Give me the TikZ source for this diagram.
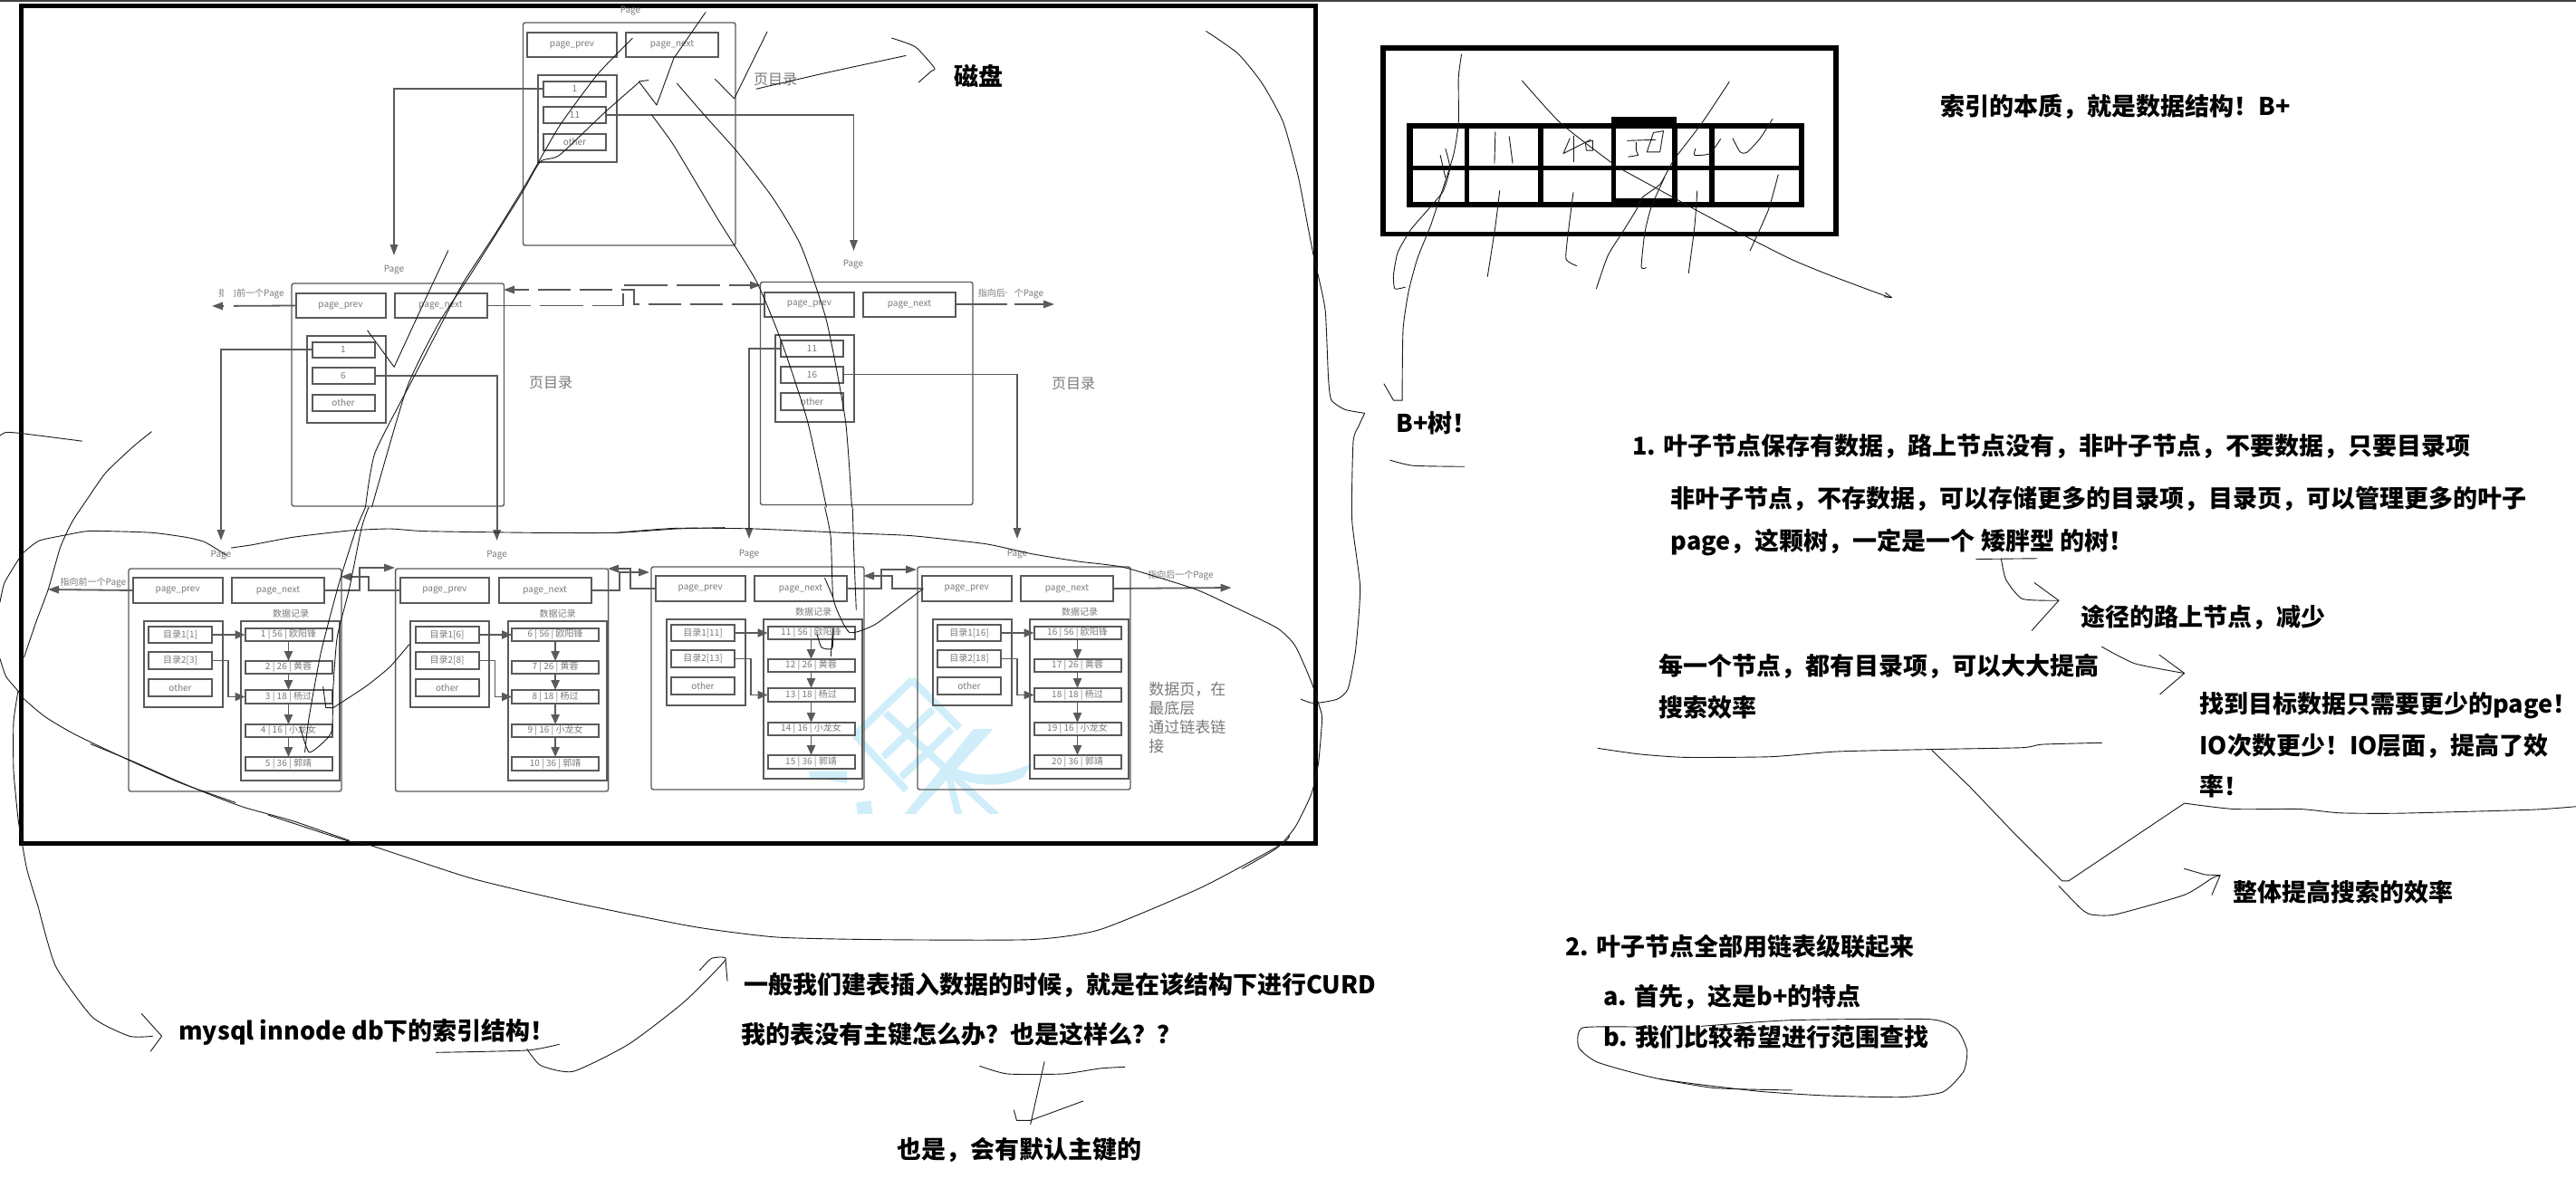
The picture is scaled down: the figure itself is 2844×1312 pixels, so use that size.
\documentclass[tikz,border=0pt]{standalone}
\usepackage{fontspec}
\setmainfont{Noto Sans CJK SC}
\usetikzlibrary{arrows.meta}
\definecolor{ln}{HTML}{5A5A5A}
\definecolor{tx}{HTML}{7A7A7A}
\definecolor{wm}{HTML}{CFEEFA}
\tikzset{
  pagebox/.style={draw=ln,line width=.7pt,rounded corners=1.2pt,inner sep=0,outer sep=0},
  cellbox/.style={draw=ln,line width=1pt,inner sep=0,outer sep=0,text=tx,font=\fontsize{5}{6}\selectfont},
  framebox/.style={draw=black,line width=2.5pt,inner sep=0,outer sep=0},
  lbl/.style={text=tx,inner sep=0,font=\fontsize{5}{6}\selectfont},
  midlbl/.style={text=tx,inner sep=0,font=\fontsize{8}{9.5}\selectfont},
  notelbl/.style={text=tx,inner sep=0,anchor=west,text height=.76em,text depth=0pt,font=\fontsize{8.5}{10}\selectfont},
  bigt/.style={text=black,anchor=west,inner sep=0,text height=.76em,text depth=0pt,font=\fontsize{13.5}{16}\selectfont\bfseries},
  arr/.style={draw=ln,line width=.9pt,-{Triangle[length=6pt,width=4.2pt]}},
  arrs/.style={draw=ln,line width=.9pt,-{Triangle[length=5.5pt,width=4.6pt]}},
  hand/.style={draw=black!90,line width=.45pt,line join=round,line cap=round},
  zone1/.style={xscale=.7018,yscale=.3571},
  zone2/.style={shift={(100,560)},xscale=.4464,yscale=.3333},
  zone3/.style={shift={(680,560)},xscale=.5102,yscale=.3333},
  zone4/.style={shift={(1450,0)},xscale=.4783,yscale=.3571},
  zone5/.style={shift={(1700,440)},xscale=.7299,yscale=.3571},
  zone6/.style={shift={(0,900)},xscale=1.0204,yscale=.3333},
  zone7/.style={shift={(1650,900)},xscale=.7615,yscale=.3333},
  zone8/.style={shift={(0,440)},xscale=.3333,yscale=.3571},
  zone9/.style={shift={(1300,0)},xscale=.3333,yscale=.574},
  zone10/.style={shift={(900,730)},xscale=.3333,yscale=.3333},
}
\newcommand{\bx}[7]{%
  \pgfmathsetmacro{\bcx}{(#2+#4)/2}\pgfmathsetmacro{\bcy}{(#3+#5)/2}%
  \pgfmathsetmacro{\bw}{(#4-#2)*.5}\pgfmathsetmacro{\bh}{(#5-#3)*.5}%
  \node[#6,minimum width=\bw pt,minimum height=\bh pt] (#1) at (\bcx,\bcy) {#7};}
\newcommand{\hs}[1]{\draw[hand] plot[smooth,tension=.35] coordinates {#1};}
\newcommand{\hp}[1]{\draw[hand] plot coordinates {#1};}
% a non-leaf page
\newcommand{\dirpage}[5]{\begin{scope}[shift={(#2,#3)}]
  \bx{#1}{577.5}{25}{812}{271}{pagebox}{}
  \bx{#1-prev}{582}{36}{681}{63}{cellbox}{page\_prev}
  \bx{#1-next}{691}{36}{793}{63}{cellbox}{page\_next}
  \bx{#1-dir}{594}{83}{681}{179}{cellbox}{}
  \bx{#1-e1}{600}{89.5}{669}{107}{cellbox}{#4}
  \bx{#1-e2}{600}{118}{669}{136}{cellbox}{#5}
  \bx{#1-e3}{600}{147.5}{669}{166}{cellbox}{other}
\end{scope}}
% a leaf page
\newcommand{\leaf}[4]{\begin{scope}[shift={(#2,#3)}]
  \bx{#1}{142}{628}{377}{874}{pagebox}{}
  \bx{#1-prev}{147}{638}{245.5}{666}{cellbox}{page\_prev}
  \bx{#1-next}{256}{638}{358}{666}{cellbox}{page\_next}
  \node[lbl] (#1-dl) at (321,678) {数据记录};
  \bx{#1-dir}{158.5}{686}{245.5}{781}{cellbox}{}
  \bx{#1-e1}{164}{692}{234}{710}{cellbox}{目录1[\the\numexpr#4\relax]}
  \bx{#1-e2}{164}{720}{234}{739}{cellbox}{目录2[\the\numexpr#4+2\relax]}
  \bx{#1-e3}{164}{750}{234}{769}{cellbox}{other}
  \bx{#1-data}{266}{686}{375}{862}{cellbox}{}
  \bx{#1-r1}{270.5}{694}{366.5}{708}{cellbox}{\the\numexpr#4\relax\ | 56 | 欧阳锋}
  \bx{#1-r2}{270.5}{730}{366.5}{744}{cellbox}{\the\numexpr#4+1\relax\ | 26 | 黄蓉}
  \bx{#1-r3}{270.5}{762}{366.5}{777}{cellbox}{\the\numexpr#4+2\relax\ | 18 | 杨过}
  \bx{#1-r4}{270.5}{800}{366.5}{814}{cellbox}{\the\numexpr#4+3\relax\ | 16 | 小龙女}
  \bx{#1-r5}{270.5}{836}{366.5}{851}{cellbox}{\the\numexpr#4+4\relax\ | 36 | 郭靖}
  \draw[arrs] (#1-e1.east) -- (#1-r1.west);
  \coordinate (#1-bend) at (252,769.5);
  \draw[arrs,line width=.7pt] (#1-e2.east) -| (#1-bend) -- (#1-r3.west);
  \draw[arrs] (#1-r1.south) -- (#1-r2.north);
  \draw[arrs] (#1-r2.south) -- (#1-r3.north);
  \draw[arrs] (#1-r3.south) -- (#1-r4.north);
  \draw[arrs] (#1-r4.south) -- (#1-r5.north);
\end{scope}}
\begin{document}
\begin{tikzpicture}[x=.5pt,y=-.5pt]
\useasboundingbox (0,0) rectangle (2844,1312);
\clip (0,0) rectangle (2844,1312);
\fill[white] (0,0) rectangle (2844,1312);
\draw[black!75,line width=.8pt] (0,.8) -- (2844,.8);
% watermark
\begin{scope}
  \clip (880,700) rectangle (1200,898);
  \begin{scope}[zone10,draw=wm,line width=4pt]
    \draw[wm] (320,62) -- (478,222);
    \draw[wm] (232,172) -- (600,512);
    \draw[wm] (132,246) -- (302,428);
    \draw[wm] (132,246) -- (322,62);
    \draw[wm] (225,318) -- (390,160);
    \draw[wm] (285,385) -- (452,225);
    \fill[wm] (590,225) -- (525,225) -- (285,520) -- (320,520) -- cycle;
    \fill[wm] (440,345) .. controls (530,390) and (620,385) .. (715,340) -- (690,385) .. controls (620,420) and (530,420) .. (445,375) -- cycle;
    \fill[wm] (430,375) -- (450,365) -- (490,520) -- (465,520) -- cycle;
    \fill[wm] (135,470) -- (185,462) -- (192,520) -- (142,520) -- cycle;
    \fill[wm] (-20,365) -- (105,365) -- (105,405) -- (-20,385) -- cycle;
  \end{scope}
\end{scope}
% frame
\bx{frame}{23}{6.5}{1452.5}{931}{framebox}{}
% tree
\dirpage{root}{0}{0}{1}{11}
\dirpage{ml}{-255.5}{288}{1}{6}
\dirpage{mr}{262}{286.5}{11}{16}
\leaf{la}{0}{0}{1}
\leaf{lb}{294.6}{0}{6}
\leaf{lc}{577}{-2}{11}
\leaf{ld}{871}{-2}{16}
\node[lbl] (rootp) at (696,12) {Page};
\node[lbl] (mlp) at (435,298) {Page};
\node[lbl] (mrp) at (942,292) {Page};
\node[lbl] (lap) at (244,613) {Page};
\node[lbl] (lbp) at (548.6,613) {Page};
\node[lbl] (lcp) at (827,612) {Page};
\node[lbl] (ldp) at (1123,612) {Page};
\node[midlbl] (rootd) at (856,87.5) {页目录};
\node[midlbl] (mld) at (608,422.5) {页目录};
\node[midlbl] (mrd) at (1185,424) {页目录};
\node[lbl] (mlprevl) at (277.5,325) {指向前一个Page};
\node[lbl] (mrnextl) at (1116,325) {指向后一个Page};
\node[lbl] (laprevl) at (103,643.5) {指向前一个Page};
\node[lbl] (ldnextl) at (1303.5,636) {指向后一个Page};
\node[notelbl] (dp1) at (1268,760) {数据页，在};
\node[notelbl] (dp2) at (1268,781) {最底层};
\node[notelbl] (dp3) at (1268,802) {通过链表链};
\node[notelbl] (dp4) at (1268,823) {接};
% tree connectors
\coordinate (mlin) at (435,282); \coordinate (mrin) at (942.5,277);
\coordinate (lain) at (244,597); \coordinate (lbin) at (548.6,597);
\coordinate (lcin) at (827,595); \coordinate (ldin) at (1123,595);
\draw[arr] (root-e1.west) -| (mlin);
\draw[arr] (root-e2.east) -| (mrin);
\draw[arr] (ml-e1.west) -| (lain);
\draw[arr] (ml-e2.east) -| (lbin);
\draw[arr] (mr-e1.west) -| (lcin);
\draw[arr] (mr-e2.east) -| (ldin);
\coordinate (mlout) at (234,338); \coordinate (mrout) at (1164,336);
\draw[arr] (ml-prev.west) -- (mlout);
\draw[arr] (mr-next.east) -- (mrout);
\fill[white] (247,316) rectangle (258,346);
\fill[white] (1111.5,316) rectangle (1119.5,346);
\coordinate (fa) at (688,315); \coordinate (fb) at (840,315);
\coordinate (ba) at (700,320); \coordinate (bb) at (556,320);
\draw[arr,dash pattern=on 24pt off 5pt] (ml-next.east) -| (fa) -- (fb);
\draw[arr,dash pattern=on 18pt off 5pt] (mr-prev.west) -| (ba) -- (bb);
\coordinate (laout) at (53,651); \coordinate (ldout) at (1359.6,649);
\draw[arr] (la-prev.west) -- (laout);
\draw[arr] (ld-next.east) -- (ldout);
\coordinate (f1a) at (397,627); \coordinate (f1b) at (436,627);
\coordinate (b1a) at (407,637); \coordinate (b1b) at (376,637);
\draw[arr] (la-next.east) -| (f1a) -- (f1b);
\draw[arr] (lb-prev.west) -| (b1a) -- (b1b);
\coordinate (f2a) at (684,632); \coordinate (f2b) at (717,632);
\coordinate (b2a) at (696,628); \coordinate (b2b) at (671,628);
\draw[arr] (lb-next.east) -| (f2a) -- (f2b);
\draw[arr] (lc-prev.west) -| (b2a) -- (b2b);
\coordinate (f3a) at (973,629); \coordinate (f3b) at (1012,629);
\coordinate (b3a) at (984.6,636); \coordinate (b3b) at (953,636);
\draw[arr] (lc-next.east) -| (f3a) -- (f3b);
\draw[arr] (ld-prev.west) -| (b3a) -- (b3b);
% index table sketch
\draw[black,line width=2.9pt] (1526.7,53) rectangle (2026.7,258.5);
\foreach \xa/\xb in {1553/1560,1616.5/1622,1698/1703.6,1779/1783.5,1846/1852,1887/1892.5,1986/1992}
  \fill[black] (\xa,136) rectangle (\xb,228.5);
\foreach \ya/\yb in {136/142,183/188,223/228.5}
  \fill[black] (1553,\ya) rectangle (1992,\yb);
\fill[black] (1779,129) rectangle (1851,142);
\fill[black] (1779,219) rectangle (1851,228.5);
% text
\node[bigt] (disk) at (1053,87) {磁盘};
\node[bigt] (t0) at (2142,120) {索引的本质，就是数据结构！B+};
\node[bigt] (t1) at (1541,470) {B+树！};
\node[bigt] (t2) at (1802,495) {1. 叶子节点保存有数据，路上节点没有，非叶子节点，不要数据，只要目录项};
\node[bigt] (t3) at (1844.5,552.5) {非叶子节点，不存数据，可以存储更多的目录项，目录页，可以管理更多的叶子};
\node[bigt] (t4) at (1844.5,600) {page，这颗树，一定是一个 矮胖型 的树！};
\node[bigt] (t5) at (2297,683.5) {途径的路上节点，减少};
\node[bigt] (t6) at (1831,738) {每一个节点，都有目录项，可以大大提高};
\node[bigt] (t7) at (1831,783.5) {搜索效率};
\node[bigt] (t8) at (2428,780) {找到目标数据只需要更少的page！};
\node[bigt] (t9) at (2428,826) {IO次数更少！IO层面，提高了效};
\node[bigt] (t10) at (2428,871) {率！};
\node[bigt] (t11) at (2465,988) {整体提高搜索的效率};
\node[bigt] (t12) at (1728,1048) {2. 叶子节点全部用链表级联起来};
\node[bigt] (t13) at (1770,1103) {a. 首先，这是b+的特点};
\node[bigt] (t14) at (1770,1148) {b. 我们比较希望进行范围查找};
\node[bigt] (t15) at (197,1141) {mysql innode db下的索引结构！};
\node[bigt] (t16) at (821,1090) {一般我们建表插入数据的时候，就是在该结构下进行CURD};
\node[bigt] (t17) at (818,1145) {我的表没有主键怎么办？也是这样么？？};
\node[bigt] (t18) at (990,1272) {也是，会有默认主键的};
% hand strokes: tree paths
\begin{scope}[zone1]
\hs{(995,118)(940,230)(880,390)(830,560)(780,720)(730,870)(700,980)(650,1170)(590,1400)(575,1568)}
\hp{(1020,248)(1005,252)(1033,325)(1060,180)(1110,38)}
\hs{(1005,255)(950,350)(880,480)(850,500)(820,600)(740,850)(690,1000)(640,1200)(585,1568)}
\hp{(1207,98)(1155,305)(1125,245)}
\hs{(1065,258)(1110,360)(1160,470)(1215,610)(1260,760)(1300,990)(1330,1300)(1340,1568)}
\hs{(1025,355)(1060,450)(1130,680)(1190,870)(1230,1060)(1270,1300)(1300,1568)}
\hp{(705,775)(680,880)(620,1135)(578,1022)}
\hs{(1190,275)(1300,225)(1425,172)}
\hs{(1403,118)(1440,145)(1470,210)(1465,220)(1445,255)}
\end{scope}
\begin{scope}[zone2]
\hs{(680,0)(655,80)(615,250)(570,480)(540,700)(530,812)}
\hs{(688,0)(670,70)(640,270)(610,430)(600,600)(597,740)(575,780)(540,812)(518,728)}
\hp{(575,595)(582,665)(600,665)}
\hs{(600,665)(680,595)(740,530)(788,455)}
\end{scope}
\begin{scope}[zone3]
\hs{(452,0)(465,100)(470,300)(490,380)(505,415)(525,412)(565,385)(665,270)}
\hs{(512,0)(515,150)(520,340)}
\hs{(452,235)(470,300)}
\hs{(435,420)(445,465)(468,468)(470,400)(465,495)}
\end{scope}
% hand strokes: index table
\begin{scope}[zone4]
\hs{(342,168)(335,240)(335,380)(325,470)(312,530)(290,620)(270,700)(240,800)(220,900)(207,1020)(205,1238)}
\hp{(205,1238)(185,1238)(163,1187)}
\hs{(305,460)(315,520)(300,590)(270,640)(225,710)(195,780)(185,850)(188,893)(212,888)}
\hp{(293,480)(305,550)}
\hp{(420,408)(418,505)}
\hp{(452,422)(460,505)}
\hp{(592,428)(577,475)(640,432)}
\hp{(628,440)(645,435)(645,465)(630,465)(628,440)}
\hp{(600,420)(600,500)}
\hp{(725,435)(790,432)}
\hp{(745,440)(745,465)(750,480)(727,485)}
\hp{(785,410)(808,405)(800,470)(770,470)(785,410)}
\hs{(482,250)(570,380)(690,505)(720,530)(830,610)(870,640)(975,715)(1100,800)(1190,850)(1320,915)(1335,920)}
\hp{(1320,905)(1335,920)(1318,918)}
\hs{(960,253)(897,380)(840,480)(825,510)(800,570)(760,610)(745,650)(715,715)(680,790)(653,893)}
\hs{(940,430)(915,475)(880,480)(882,460)}
\hs{(968,428)(985,470)(1000,472)(1030,430)(1060,368)}
\hs{(430,590)(420,700)(402,855)}
\hs{(600,595)(590,700)(583,800)(608,822)}
\hs{(810,550)(780,640)(765,720)(757,825)(768,828)}
\hs{(886,590)(880,700)(866,845)}
\hs{(1073,540)(1050,650)(1008,775)}
\hs{(177,1423)(230,1440)(348,1443)}
\end{scope}
% big brace towards B+
\begin{scope}[zone9]
\hs{(95,60)(200,103)(280,160)(350,235)(400,340)(430,430)(450,490)(470,540)(490,600)(500,730)(510,770)(555,788)(620,795)}
\hs{(620,795)(600,820)(582,850)(578,1000)(605,1130)(590,1250)(565,1325)(530,1345)(470,1352)(440,1352)(408,1345)}
\end{scope}
% big oval round the leaves
\begin{scope}[zone8]
\hs{(0,115)(20,105)(70,108)(272,132)}
\hs{(502,103)(440,150)(350,230)(290,310)(240,380)(200,460)(160,590)(120,690)(80,800)}
\hs{(0,630)(15,570)(60,500)(80,475)(130,440)(220,422)(300,410)(500,415)(620,430)(680,445)(750,485)}
\hs{(0,805)(20,860)(60,905)(80,930)(150,985)(250,1040)(430,1120)(600,1190)(780,1250)}
\hs{(60,905)(45,1000)(45,1150)(60,1300)(75,1385)(90,1460)(125,1568)}
\end{scope}
\begin{scope}[zone2]
\hs{(348,135)(400,125)(500,100)(640,78)(740,72)(830,80)(1100,85)(1300,85)(1450,72)(1568,68)}
\end{scope}
\begin{scope}[zone3]
\hs{(0,85)(130,70)(300,72)(520,87)(640,95)(800,122)(900,155)(1000,180)(1100,200)(1250,270)(1320,318)(1430,400)(1470,460)(1505,580)(1520,650)(1528,700)(1520,850)(1505,950)(1470,1060)(1430,1130)(1355,1198)}
\end{scope}
\begin{scope}[zone6]
\hs{(1395,70)(1385,100)(1300,240)(1190,380)(1115,413)(950,413)(840,405)(750,370)(620,290)(510,210)(400,100)(375,85)(290,0)}
\hs{(41,300)(60,500)(100,670)(140,733)(165,733)}
\hp{(153,658)(175,733)(163,783)}
\hs{(472,787)(570,780)(605,760)}
\hs{(570,775)(585,830)(620,850)(680,760)(740,620)(785,480)(770,475)(757,515)}
\hp{(785,480)(787,550)}
\hs{(1060,832)(1090,858)(1150,858)(1190,840)(1217,835)}
\hp{(1130,818)(1115,1025)}
\hp{(1097,978)(1100,1012)(1115,1012)(1172,948)}
\end{scope}
\begin{scope}[zone2]
\hs{(0,785)(100,840)(210,905)(300,955)(380,995)(500,1040)(640,1105)}
\end{scope}
% hand strokes: right notes
\begin{scope}[zone5]
\hp{(660,497)(752,495)}
\hs{(698,497)(705,560)(730,620)(785,625)}
\hp{(748,570)(785,625)(744,718)}
\hs{(850,768)(900,820)(975,850)}
\hp{(937,793)(975,850)(938,915)}
\hs{(88,1082)(150,1100)(220,1110)(350,1108)(450,1092)(600,1085)(730,1080)(760,1070)(850,1065)}
\hp{(593,1088)(650,1200)(720,1350)(790,1492)(800,1492)(975,1252)}
\hs{(975,1252)(1050,1270)(1150,1270)(1210,1282)(1300,1283)(1500,1272)(1568,1262)}
\end{scope}
\begin{scope}[zone7]
\hs{(818,235)(850,310)(865,330)(900,330)(1000,265)(1040,210)(1052,200)}
\hp{(1000,178)(1030,198)(1052,200)(1040,265)}
\hs{(220,703)(128,705)(122,770)(150,820)(240,875)(380,915)(480,930)(590,935)(650,918)(680,850)(685,780)(670,710)(630,677)(430,680)(300,700)}
\hs{(240,875)(320,905)(432,912)}
\end{scope}
\end{tikzpicture}
\end{document}
